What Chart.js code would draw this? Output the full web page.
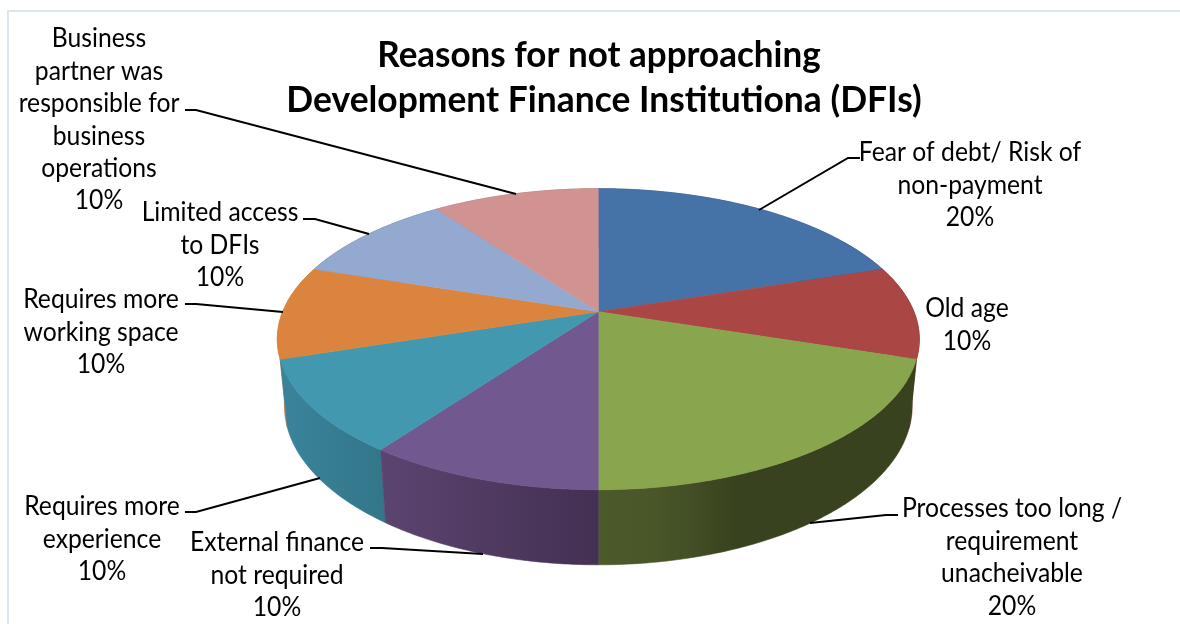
<!DOCTYPE html>
<html>
<head>
<meta charset="utf-8">
<style>
  html, body { margin: 0; padding: 0; background: #fff; }
  #wrap { position: relative; width: 1180px; height: 624px; }
</style>
<script src="https://cdn.jsdelivr.net/npm/chart.js@4"></script>
</head>
<body>
<div id="wrap"><canvas id="chart" width="1180" height="624"></canvas></div>
<script>
const titleLines = ['Reasons for not approaching', 'Development Finance Institutiona (DFIs)'];
const categories = [
  'Fear of debt/ Risk of non-payment',
  'Old age',
  'Processes too long / requirement unacheivable',
  'External finance not required',
  'Requires more experience',
  'Requires more working space',
  'Limited access to DFIs',
  'Business partner was responsible for business operations'
];
const shares = [20, 10, 20, 10, 10, 10, 10, 10];
const topColors = ['#4572A7', '#AA4643', '#89A54E', '#71588F', '#4198AF', '#DB843D', '#93A9CF', '#D19392'];
// Wall shading, evenly spaced stops left to right across each slice's rim.
const wallColors = [
  ['#2c4a6e', '#2c4a6e'], ['#6b2c2a', '#4a1f1d'],
  ['#4c5a2b', '#4a5829', '#434f25', '#38421e', '#38421e', '#38421e', '#38421e', '#38421e'],
  ['#5c4470', '#433052'],
  ['#3a849b', '#327689'], ['#c97a35', '#c97a35'], ['#5f6f88', '#5f6f88'], ['#8a6160', '#8a6160']
];
const wrappedLabels = [
  ['Fear of debt/ Risk of', 'non-payment'],
  ['Old age'],
  ['Processes too long /', 'requirement', 'unacheivable'],
  ['External finance', 'not required'],
  ['Requires more', 'experience'],
  ['Requires more', 'working space'],
  ['Limited access', 'to DFIs'],
  ['Business', 'partner was', 'responsible for', 'business', 'operations']
];

// Label anchors and leader polylines, in slice order.
const labelLayout = [
  { x: 970, y: 153, leader: [[860, 158], [848, 158], [759, 210]] },
  { x: 967, y: 309, leader: null },
  { x: 1012, y: 509, leader: [[898, 515], [886, 515], [810, 523]] },
  { x: 277, y: 543, leader: [[370, 548], [382, 548], [483, 554]] },
  { x: 102, y: 507, leader: [[185, 512], [196, 512], [320, 478]] },
  { x: 101, y: 300, leader: [[185, 304], [196, 304], [283, 312]] },
  { x: 220, y: 213, leader: [[303, 219], [315, 219], [369, 234]] },
  { x: 99, y: 39, leader: [[185, 110], [196, 110], [516, 194]] }
];

// Projection of the pie's disc: apex at (cx, cy), lid and base ellipses under perspective.
const view = { cx: 598.3, cy: 311.7, k: 0.1827, lidA: 315.6, lidB: 145.5, baseA: 308.6, baseB: 153.5, baseCy: 377 };

function lidPoint(t) {
  const u = Math.cos(t), v = Math.sin(t), w = 1 - view.k * v;
  return [view.cx + view.lidA * u / w, view.cy + view.lidB * v / w];
}
function basePoint(t) {
  const u = Math.cos(t), v = Math.sin(t), w = 1 - view.k * v;
  return [view.cx + view.baseA * u / w, view.baseCy + view.baseB * v / w];
}
function tracePath(ctx, pts) {
  ctx.beginPath();
  pts.forEach((p, i) => i ? ctx.lineTo(p[0], p[1]) : ctx.moveTo(p[0], p[1]));
  ctx.closePath();
}
function samples(a, b, fn) {
  const n = Math.max(2, Math.ceil((b - a) / 0.01));
  const out = [];
  for (let i = 0; i <= n; i++) out.push(fn(a + (b - a) * i / n));
  return out;
}

// A pie controller that renders its arc elements as a thick disc seen in perspective.
class Pie3DController extends Chart.PieController {
  draw() {
    const ctx = this.chart.ctx;
    const arcs = this.getMeta().data;
    const ds = this.getDataset();
    ctx.save();
    ctx.lineWidth = 0.6;
    ctx.lineJoin = 'round';
    const order = arcs.map((a, i) => i).sort((i, j) => {
      const d = x => Math.sin((arcs[x].startAngle + arcs[x].endAngle) / 2);
      return d(i) - d(j);
    });
    order.forEach(i => {
      const a = arcs[i];
      const lid = samples(a.startAngle, a.endAngle, lidPoint);
      const base = samples(a.startAngle, a.endAngle, basePoint).reverse();
      const pts = lid.concat(base);
      const xs = pts.map(p => p[0]);
      const grad = ctx.createLinearGradient(Math.min(...xs), 0, Math.max(...xs), 0);
      const stops = ds.wallColors[i];
      stops.forEach((c, s) => grad.addColorStop(s / (stops.length - 1), c));
      tracePath(ctx, pts);
      ctx.fillStyle = grad;
      ctx.strokeStyle = grad;
      ctx.fill();
      ctx.stroke();
    });
    arcs.forEach((a, i) => {
      const pts = [[view.cx, view.cy]].concat(samples(a.startAngle, a.endAngle, lidPoint));
      tracePath(ctx, pts);
      ctx.fillStyle = ds.backgroundColor[i];
      ctx.strokeStyle = ds.backgroundColor[i];
      ctx.fill();
      ctx.stroke();
    });
    ctx.restore();
  }
}
Pie3DController.id = 'pie3d';
Pie3DController.defaults = Chart.PieController.defaults;
Chart.register(Pie3DController);

const textFont = 'Lato, "Open Sans", sans-serif';
function squeezedText(ctx, text, x, y, squeeze) {
  ctx.save();
  ctx.translate(x, y);
  ctx.scale(squeeze, 1);
  ctx.fillText(text, 0, 0);
  ctx.restore();
}

const annotations = {
  id: 'annotations',
  afterDraw(chart) {
    const ctx = chart.ctx;
    ctx.save();
    // frame
    ctx.strokeStyle = '#dce6f2';
    ctx.lineWidth = 2;
    ctx.beginPath();
    ctx.moveTo(8, 624);
    ctx.lineTo(8, 11);
    ctx.lineTo(1180, 11);
    ctx.stroke();
    // title
    ctx.fillStyle = '#000';
    ctx.textAlign = 'center';
    ctx.textBaseline = 'middle';
    ctx.font = 'bold 37px ' + textFont;
    squeezedText(ctx, titleLines[0], 599, 55, 0.946);
    squeezedText(ctx, titleLines[1], 604, 100, 0.957);
    // leaders
    ctx.strokeStyle = '#000';
    ctx.lineWidth = 2;
    labelLayout.forEach(l => {
      if (!l.leader) return;
      ctx.beginPath();
      l.leader.forEach((p, i) => i ? ctx.lineTo(p[0], p[1]) : ctx.moveTo(p[0], p[1]));
      ctx.stroke();
    });
    // data labels: wrapped category text followed by the share
    ctx.font = '26px ' + textFont;
    ctx.fillStyle = '#000';
    const total = shares.reduce((s, v) => s + v, 0);
    labelLayout.forEach((l, i) => {
      const lines = wrappedLabels[i].concat(Math.round(shares[i] / total * 100) + '%');
      lines.forEach((t, j) => squeezedText(ctx, t, l.x, l.y + j * 32.4, 0.95));
    });
    ctx.restore();
  }
};

new Chart(document.getElementById('chart'), {
  type: 'pie3d',
  data: {
    labels: categories,
    datasets: [{ data: shares, backgroundColor: topColors, wallColors: wallColors, borderWidth: 0 }]
  },
  options: {
    responsive: false,
    animation: false,
    plugins: { legend: { display: false }, tooltip: { enabled: false } }
  },
  plugins: [annotations]
});
</script>
</body>
</html>
